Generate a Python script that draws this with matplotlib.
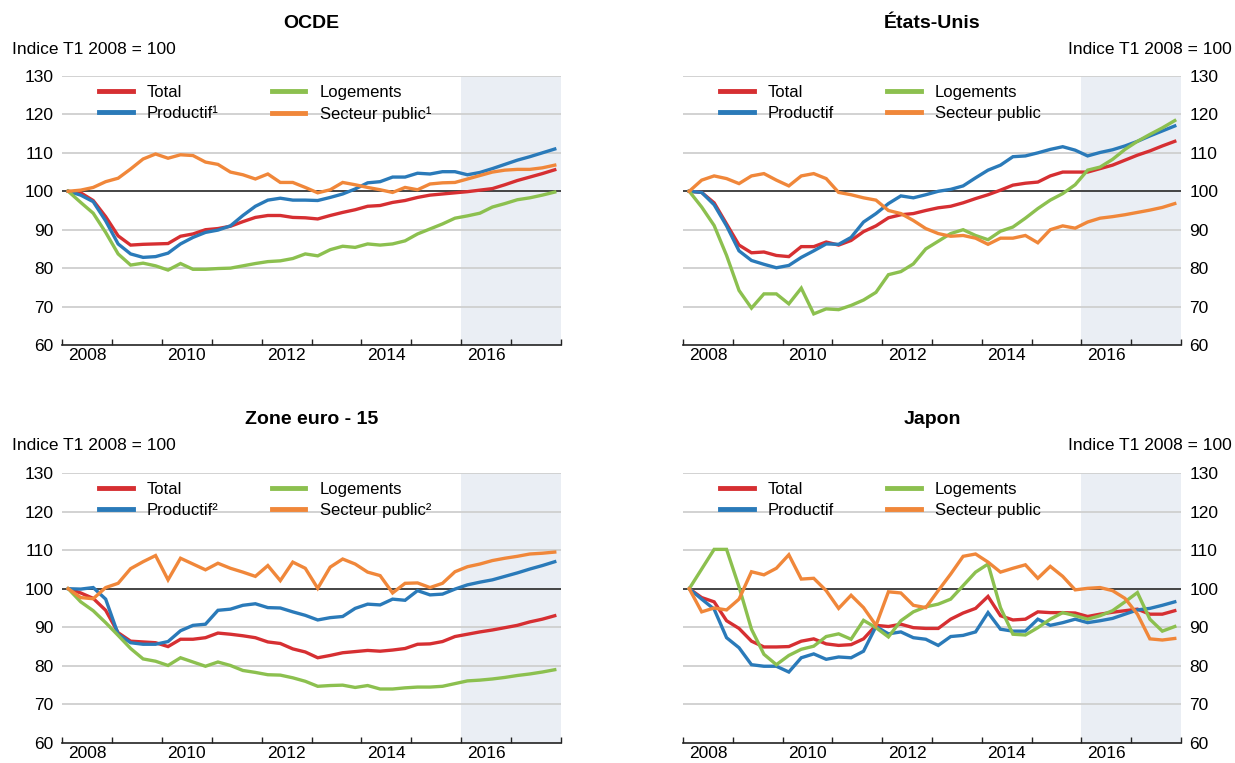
import matplotlib
matplotlib.use("Agg")
import matplotlib.pyplot as plt
import numpy as np

plt.rcParams['font.family'] = ['Liberation Sans', 'DejaVu Sans']

# Trimestres T1 2008 - T4 2017 (milieu de trimestre)
quarters = 2008 + (np.arange(40) + 0.5) / 4

# OCDE
ocde_total = [100, 99.6, 97.6, 93.4, 88.4, 86.0, 86.2, 86.3, 86.4, 88.3,
              88.9, 90.0, 90.3, 90.9, 92.1, 93.2, 93.7, 93.7, 93.2, 93.1,
              92.8, 93.7, 94.5, 95.2, 96.1, 96.3, 97.1, 97.6, 98.4, 99.0,
              99.3, 99.6, 99.9, 100.3, 100.7, 101.7, 102.8, 103.7, 104.6, 105.6]
ocde_prod = [100, 99.0, 97.3, 92.3, 86.3, 83.7, 82.8, 83.0, 83.9, 86.3,
             88.0, 89.3, 89.9, 91.0, 93.7, 96.1, 97.7, 98.2, 97.7, 97.7,
             97.6, 98.4, 99.3, 100.6, 102.2, 102.5, 103.7, 103.7, 104.7, 104.5,
             105.1, 105.1, 104.3, 104.9, 105.9, 107.0, 108.1, 109.0, 110.0, 111.0]
ocde_log = [100, 97.1, 94.3, 89.3, 83.7, 80.8, 81.3, 80.6, 79.5, 81.2,
            79.7, 79.7, 79.9, 80.0, 80.6, 81.2, 81.7, 81.9, 82.5, 83.7,
            83.2, 84.8, 85.7, 85.4, 86.3, 86.0, 86.3, 87.1, 88.9, 90.2,
            91.5, 93.0, 93.6, 94.3, 95.9, 96.8, 97.8, 98.3, 99.0, 99.8]
ocde_pub = [100, 100.3, 101.0, 102.5, 103.4, 105.8, 108.4, 109.7, 108.6, 109.5,
            109.3, 107.6, 107.0, 105.0, 104.3, 103.2, 104.5, 102.3, 102.3, 101.0,
            99.6, 100.4, 102.3, 101.7, 101.0, 100.4, 99.7, 101.0, 100.4, 101.9,
            102.2, 102.3, 103.2, 104.1, 105.0, 105.5, 105.7, 105.7, 106.1, 106.8]

# Etats-Unis
us_total = [100, 99.7, 97.0, 91.5, 86.0, 84.0, 84.2, 83.3, 83.0, 85.6,
            85.6, 86.8, 86.0, 87.2, 89.5, 91.0, 93.1, 93.9, 94.2, 95.0,
            95.7, 96.1, 97.0, 98.1, 99.1, 100.3, 101.6, 102.1, 102.4, 104.0,
            105.0, 105.0, 105.0, 105.9, 106.8, 108.1, 109.4, 110.5, 111.8, 113.0]
us_prod = [100, 99.7, 96.5, 91.0, 84.5, 82.0, 81.0, 80.1, 80.7, 82.8,
           84.5, 86.3, 86.2, 88.0, 92.0, 94.2, 96.8, 98.8, 98.3, 99.1,
           100.0, 100.5, 101.4, 103.5, 105.5, 106.8, 109.0, 109.2, 110.0, 110.9,
           111.6, 110.7, 109.2, 110.1, 110.8, 111.8, 113.0, 114.4, 115.7, 117.0]
us_log = [100, 95.9, 91.1, 83.3, 74.2, 69.6, 73.3, 73.3, 70.7, 74.8,
          68.1, 69.4, 69.2, 70.3, 71.7, 73.7, 78.3, 79.1, 81.1, 85.0,
          87.0, 89.0, 90.0, 88.5, 87.4, 89.6, 90.7, 93.0, 95.5, 97.7,
          99.4, 101.7, 105.5, 106.3, 108.3, 110.9, 113.0, 114.8, 116.5, 118.4]
us_pub = [100, 102.9, 104.0, 103.3, 102.0, 104.0, 104.6, 102.9, 101.4, 104.0,
          104.6, 103.3, 99.7, 99.1, 98.3, 97.7, 95.0, 94.2, 92.4, 90.3,
          89.0, 88.3, 88.5, 87.8, 86.2, 87.8, 87.8, 88.5, 86.6, 90.0,
          91.0, 90.4, 92.0, 93.0, 93.4, 93.9, 94.5, 95.1, 95.8, 96.8]

# Zone euro - 15
ez_total = [100, 98.9, 97.5, 94.4, 88.6, 86.4, 86.2, 86.0, 85.0, 86.9,
            86.9, 87.3, 88.5, 88.2, 87.8, 87.3, 86.2, 85.8, 84.4, 83.6,
            82.1, 82.7, 83.4, 83.7, 84.0, 83.8, 84.1, 84.5, 85.6, 85.7,
            86.3, 87.6, 88.2, 88.8, 89.3, 89.9, 90.5, 91.4, 92.1, 93.0]
ez_prod = [100, 99.9, 100.3, 97.3, 88.2, 86.0, 85.6, 85.6, 86.3, 89.1,
           90.5, 90.8, 94.4, 94.7, 95.7, 96.1, 95.1, 95.0, 94.0, 93.1,
           91.9, 92.5, 92.8, 94.9, 96.0, 95.8, 97.3, 97.0, 99.5, 98.4,
           98.6, 99.9, 101.0, 101.7, 102.3, 103.2, 104.1, 105.1, 106.0, 107.0]
ez_log = [100, 96.6, 94.3, 91.2, 87.9, 84.5, 81.8, 81.2, 80.1, 82.1,
          81.0, 79.9, 81.0, 80.1, 78.8, 78.3, 77.7, 77.6, 76.9, 76.0,
          74.7, 74.9, 75.0, 74.4, 74.9, 74.0, 74.0, 74.3, 74.5, 74.5,
          74.7, 75.4, 76.1, 76.3, 76.6, 77.0, 77.5, 77.9, 78.4, 79.0]
ez_pub = [100, 97.7, 97.4, 100.3, 101.4, 105.2, 107.0, 108.6, 102.3, 107.9,
          106.4, 104.9, 106.6, 105.3, 104.3, 103.2, 106.0, 102.1, 106.9, 105.3,
          100.1, 105.6, 107.7, 106.4, 104.3, 103.4, 98.9, 101.4, 101.5, 100.3,
          101.4, 104.4, 105.7, 106.4, 107.3, 107.9, 108.4, 109.0, 109.2, 109.5]

# Japon
jp_total = [100, 97.7, 96.6, 91.7, 89.7, 86.4, 84.9, 84.9, 85.0, 86.4,
            87.0, 85.7, 85.3, 85.5, 87.0, 90.5, 90.2, 90.8, 89.9, 89.7,
            89.7, 92.1, 93.7, 94.9, 98.0, 93.0, 91.9, 92.1, 94.0, 93.8,
            93.8, 93.7, 92.8, 93.4, 93.9, 94.3, 94.7, 93.4, 93.4, 94.3]
jp_prod = [100, 97.3, 94.7, 87.3, 84.7, 80.3, 79.9, 79.9, 78.4, 82.1,
           83.1, 81.7, 82.3, 82.1, 83.8, 90.2, 88.3, 88.8, 87.3, 86.9,
           85.3, 87.6, 87.9, 88.8, 93.8, 89.5, 89.0, 89.0, 92.1, 90.5,
           91.2, 92.1, 91.2, 91.7, 92.3, 93.4, 94.5, 94.9, 95.7, 96.6]
jp_log = [100, 105.1, 110.2, 110.2, 100.5, 89.5, 83.0, 80.3, 82.7, 84.3,
          85.1, 87.6, 88.3, 86.9, 91.8, 89.9, 87.5, 91.7, 94.0, 95.3,
          96.0, 97.3, 100.8, 104.3, 106.4, 95.1, 88.2, 88.0, 89.9, 92.1,
          93.8, 93.0, 92.1, 93.0, 94.3, 96.6, 99.0, 92.1, 89.0, 90.2]
jp_pub = [100, 94.0, 95.0, 94.5, 97.3, 104.4, 103.6, 105.3, 108.8, 102.5,
          102.7, 99.5, 94.9, 98.3, 95.1, 90.5, 99.2, 98.9, 95.7, 95.1,
          99.5, 103.8, 108.4, 109.0, 106.9, 104.3, 105.3, 106.2, 102.7, 105.8,
          103.2, 99.7, 100.1, 100.3, 99.5, 97.5, 93.4, 87.0, 86.7, 87.1]

panels = [
    ("OCDE", [ocde_total, ocde_prod, ocde_log, ocde_pub], "\u00b9", "left"),
    ("\u00c9tats-Unis", [us_total, us_prod, us_log, us_pub], "", "right"),
    ("Zone euro - 15", [ez_total, ez_prod, ez_log, ez_pub], "\u00b2", "left"),
    ("Japon", [jp_total, jp_prod, jp_log, jp_pub], "", "right"),
]

colors = ['#d62f32', '#2a7ab9', '#8cc04f', '#f0873a']
W, H = 1235, 763
axes_px = [(62, 76, 499, 269), (683, 76, 498, 269),
           (62, 473, 499, 270), (683, 473, 498, 270)]

fig = plt.figure(figsize=(12.35, 7.63), dpi=100)

for (title, series, sup, side), (x0, y0, w, h) in zip(panels, axes_px):
    ax = fig.add_axes([x0 / W, 1 - (y0 + h) / H, w / W, h / H])
    ax.axvspan(2016, 2018, color='#eaeef4', zorder=0, lw=0)
    for yv in range(70, 140, 10):
        ax.axhline(yv, color='#cfcfcf', lw=1.3, zorder=1)
    ax.axhline(100, color='#3a3a3a', lw=1.3, zorder=2)

    labels = ['Total', 'Productif' + sup, 'Logements', 'Secteur public' + sup]
    lines = []
    for vals, c, lab in zip(series, colors, labels):
        ln, = ax.plot(quarters, vals, color=c, lw=2.4, label=lab, zorder=3,
                      solid_joinstyle='miter')
        lines.append(ln)

    ax.set_xlim(2008, 2018)
    ax.set_ylim(60, 130)
    ax.set_yticks(range(60, 140, 10))
    ax.set_xticks(range(2008, 2019))
    ax.set_xticklabels([])
    ax.set_xticks(np.arange(2008.5, 2018, 2), minor=True)
    ax.set_xticklabels([str(y) for y in range(2008, 2018, 2)], minor=True)
    ax.tick_params(axis='x', which='major', direction='in', length=4,
                   color='#222222', width=1)
    ax.tick_params(axis='x', which='minor', length=0, labelsize=12.5, pad=2)
    ax.tick_params(axis='y', length=0, labelsize=12.5, pad=6)
    for s in ['top', 'left', 'right']:
        ax.spines[s].set_visible(False)
    ax.spines['bottom'].set_color('#222222')
    ax.spines['bottom'].set_linewidth(1.2)
    ax.spines['bottom'].set_zorder(4)
    if side == 'right':
        ax.yaxis.tick_right()

    ax.legend(handles=lines, ncol=2, loc='upper left', frameon=False,
              bbox_to_anchor=(0.045, 1.024), fontsize=12, handlelength=2.0,
              handletextpad=0.85, columnspacing=3.2, labelspacing=0.4)
    for lh in ax.get_legend().get_lines():
        lh.set_linewidth(3.5)

    cx = (x0 + w / 2) / W
    fig.text(cx, 1 - (y0 - 53) / H, title, ha='center', va='center',
             fontsize=14, fontweight='bold')
    if side == 'left':
        fig.text(12 / W, 1 - (y0 - 27) / H, 'Indice T1 2008 = 100',
                 ha='left', va='center', fontsize=12.5)
    else:
        fig.text(1232 / W, 1 - (y0 - 27) / H, 'Indice T1 2008 = 100',
                 ha='right', va='center', fontsize=12.5)

fig.savefig('out.png', dpi=100)
